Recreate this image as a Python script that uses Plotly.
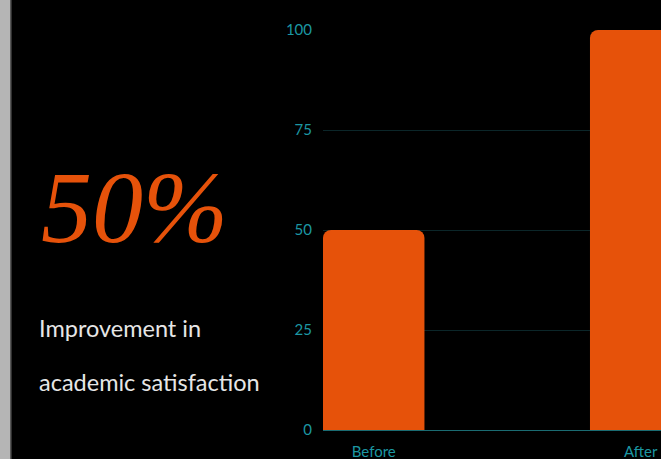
import plotly.graph_objects as go

# Satisfaction score before and after the programme
categories = ["Before", "After"]
scores = [50, 100]
y_ticks = [0, 25, 50, 75, 100]

headline = "50%"
caption_lines = ["Improvement in", "academic satisfaction"]

ORANGE = "#e6520a"
TEAL = "#1c97a3"
GRID = "#0b2629"

fig = go.Figure(
    go.Bar(
        x=categories,
        y=scores,
        width=0.38,
        marker=dict(color=ORANGE, line=dict(width=0), cornerradius=8),
        hoverinfo="skip",
    )
)

fig.update_layout(
    width=661,
    height=459,
    margin=dict(l=323, r=0, t=30, b=29),
    paper_bgcolor="black",
    plot_bgcolor="black",
    showlegend=False,
    font=dict(family="Lato", color=TEAL, size=14),
)

fig.update_xaxes(
    range=[-0.19, 1.076],
    showgrid=False,
    zeroline=False,
    showline=True,
    linecolor="#1a6b72",
    linewidth=1,
    ticks="",
    tickfont=dict(color=TEAL, size=15),
    ticklabelstandoff=8,
)
fig.update_yaxes(
    range=[0, 100],
    tickvals=y_ticks,
    showgrid=True,
    gridcolor=GRID,
    gridwidth=1,
    zeroline=False,
    showline=False,
    ticks="",
    tickfont=dict(color=TEAL, size=15),
    ticklabelstandoff=10,
)

# light side strip on the far left
fig.add_shape(type="rect", xref="paper", yref="paper",
              x0=-0.96, x1=-0.9236, y0=-0.1, y1=1.1,
              fillcolor="#b5b5b5", line=dict(width=0), layer="above")
fig.add_shape(type="line", xref="paper", yref="paper",
              x0=-0.9236, x1=-0.9236, y0=-0.1, y1=1.1,
              line=dict(color="#555555", width=1.5), layer="above")

fig.add_annotation(
    text="<i>" + headline + "</i>", xref="paper", yref="paper",
    x=-0.84, y=0.555, xanchor="left", yanchor="middle", showarrow=False,
    font=dict(family="Liberation Serif", size=102, color=ORANGE),
)

for line, ypos in zip(caption_lines, [0.255, 0.12]):
    fig.add_annotation(
        text=line, xref="paper", yref="paper",
        x=-0.846, y=ypos, xanchor="left", yanchor="middle", showarrow=False,
        font=dict(family="Lato", size=23.5, color="#e6e6e6"),
    )

fig.write_html("out.html")
